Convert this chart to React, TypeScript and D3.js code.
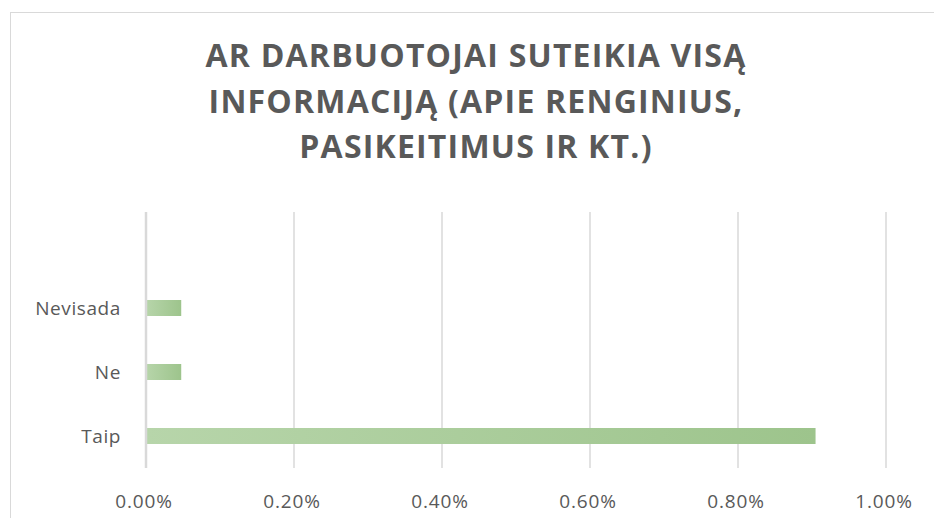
import React, { useEffect, useRef } from 'react';
import * as d3 from 'd3';

// chart data
const titleLines = ['AR DARBUOTOJAI SUTEIKIA VISĄ', 'INFORMACIJĄ (APIE RENGINIUS,', 'PASIKEITIMUS IR KT.)'];
const categories = ['Taip', 'Ne', 'Nevisada', ''];
const values = [0.9048, 0.0476, 0.0476, null];
const xTicks = [0, 0.2, 0.4, 0.6, 0.8, 1.0];

const W = 934;
const H = 518;

const App = () => {
  const ref = useRef<SVGSVGElement | null>(null);

  useEffect(() => {
    if (!ref.current) return;
    const svg = d3.select(ref.current);
    svg.selectAll('*').remove();

    const font = '"Open Sans", "DejaVu Sans", sans-serif';
    const textColor = '#595959';

    // outer chart frame
    svg
      .append('rect')
      .attr('x', 10.5)
      .attr('y', 12.5)
      .attr('width', W + 20)
      .attr('height', H + 20)
      .attr('fill', '#fff')
      .attr('stroke', '#d9d9d9')
      .attr('stroke-width', 1);

    // title
    svg
      .append('g')
      .selectAll('text')
      .data(titleLines)
      .enter()
      .append('text')
      .attr('x', 476)
      .attr('y', (d, i) => 67 + i * 45.5)
      .attr('text-anchor', 'middle')
      .style('font-family', font)
      .style('font-weight', 700)
      .style('font-size', '32px')
      .style('letter-spacing', '1.2px')
      .style('fill', textColor)
      .text(d => d);

    const margin = { top: 212, left: 146, right: 48, bottom: 50 };
    const plotH = 468 - margin.top;

    const x = d3.scaleLinear().domain([0, 1]).range([margin.left, W - margin.right]);
    const y = d3
      .scaleBand()
      .domain(categories.slice().reverse())
      .range([margin.top, margin.top + plotH])
      .paddingInner(0.75)
      .paddingOuter(0.375);

    // gradient for bars
    const grad = svg
      .append('defs')
      .append('linearGradient')
      .attr('id', 'barGrad')
      .attr('x1', '0%')
      .attr('x2', '100%')
      .attr('y1', '0%')
      .attr('y2', '0%');
    grad.append('stop').attr('offset', '0%').attr('stop-color', '#b7d5aa');
    grad.append('stop').attr('offset', '100%').attr('stop-color', '#9dc48c');

    // gridlines
    svg
      .append('g')
      .selectAll('line')
      .data(xTicks.slice(1))
      .enter()
      .append('line')
      .attr('x1', d => x(d))
      .attr('x2', d => x(d))
      .attr('y1', margin.top)
      .attr('y2', margin.top + plotH)
      .attr('stroke', '#d9d9d9')
      .attr('stroke-width', 1.5);

    // bars
    const barData = categories
      .map((c, i) => ({ cat: c, v: values[i] }))
      .filter(d => d.v != null) as { cat: string; v: number }[];

    svg
      .append('g')
      .selectAll('rect')
      .data(barData)
      .enter()
      .append('rect')
      .attr('x', x(0))
      .attr('y', d => y(d.cat) as number)
      .attr('width', d => x(d.v) - x(0))
      .attr('height', y.bandwidth())
      .attr('fill', 'url(#barGrad)');

    // vertical axis line
    svg
      .append('line')
      .attr('x1', x(0))
      .attr('x2', x(0))
      .attr('y1', margin.top)
      .attr('y2', margin.top + plotH)
      .attr('stroke', '#d9d9d9')
      .attr('stroke-width', 2.5);

    // category labels
    svg
      .append('g')
      .selectAll('text')
      .data(categories.filter(c => c !== ''))
      .enter()
      .append('text')
      .attr('x', 121)
      .attr('y', d => (y(d) as number) + y.bandwidth() / 2 + 7)
      .attr('text-anchor', 'end')
      .style('font-family', font)
      .style('font-size', '19px')
      .style('letter-spacing', '0.6px')
      .style('fill', textColor)
      .text(d => d);

    // x tick labels
    svg
      .append('g')
      .selectAll('text')
      .data(xTicks)
      .enter()
      .append('text')
      .attr('x', d => x(d) - 2)
      .attr('y', 508)
      .attr('text-anchor', 'middle')
      .style('font-family', font)
      .style('font-size', '19px')
      .style('letter-spacing', '0.8px')
      .style('fill', textColor)
      .text(d => d3.format('.2f')(d) + '%');
  }, []);

  return (
    <svg
      ref={ref}
      width={W}
      height={H}
      style={{ position: 'absolute', left: 0, top: 0, background: '#fff' }}
    />
  );
};

export default App;
